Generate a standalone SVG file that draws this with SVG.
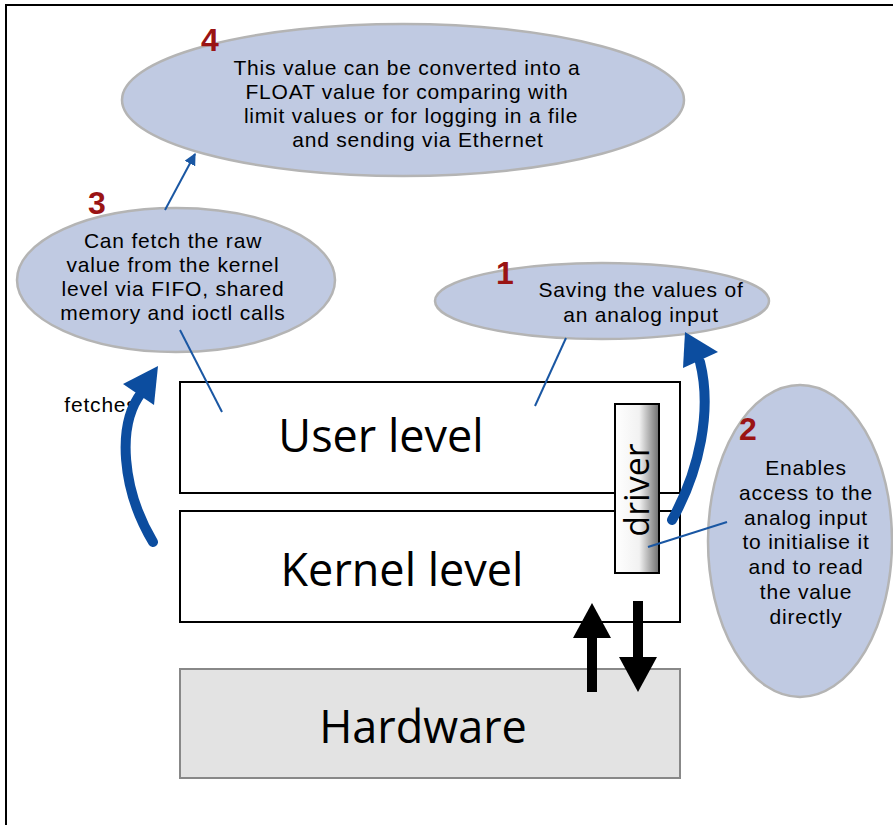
<svg xmlns="http://www.w3.org/2000/svg" width="893" height="825" viewBox="0 0 893 825">
<style>
.bub{fill:#c0cae2;stroke:#b4b4b4;stroke-width:2.5}
.t{font-family:"Liberation Sans",Arial,sans-serif;font-size:21px;letter-spacing:0.8px;fill:#000;text-anchor:middle}
.big{font-family:"Open Sans","Noto Sans",sans-serif;font-size:45px;fill:#000;text-anchor:middle}
.num{font-family:"Liberation Sans",Arial,sans-serif;font-weight:bold;font-size:32px;fill:#9a1414}
.box{fill:#fff;stroke:#000;stroke-width:2}
.lead{stroke:#1a57a3;stroke-width:2;fill:none}
.curve{stroke:#0c4d9f;stroke-width:10;fill:none;stroke-linecap:round}
</style>
<defs>
<linearGradient id="drvg" x1="0" y1="0" x2="1" y2="0">
<stop offset="0" stop-color="#ffffff"/>
<stop offset="0.55" stop-color="#f2f2f2"/>
<stop offset="1" stop-color="#6e6e6e"/>
</linearGradient>
<marker id="ah" viewBox="0 0 10 10" refX="9" refY="5" markerWidth="6" markerHeight="6" orient="auto">
<path d="M0,0 L10,5 L0,10 z" fill="#1a57a3"/>
</marker>
</defs>
<g id="frame">
<line x1="5" y1="5" x2="893" y2="5" stroke="#000" stroke-width="2"/>
<line x1="6" y1="5" x2="6" y2="825" stroke="#000" stroke-width="2"/>
</g>
<g id="hardware">
<rect x="180" y="669" width="500" height="109" fill="#e3e3e3" stroke="#888" stroke-width="2"/>
<text class="big" x="423" y="743">Hardware</text>
</g>
<g id="user-level">
<rect class="box" x="180" y="382" width="500" height="111"/>
<text class="big" x="381" y="452">User level</text>
</g>
<g id="kernel-level">
<rect class="box" x="180" y="511" width="500" height="111"/>
<text class="big" x="402" y="586">Kernel level</text>
</g>
<g id="driver">
<rect x="615" y="404" width="44" height="169" fill="url(#drvg)" stroke="#000" stroke-width="2"/>
<text class="big" style="font-size:34px" transform="translate(649,490) rotate(-90)" x="0" y="0">driver</text>
</g>
<g id="bubble4">
<ellipse class="bub" cx="403" cy="100" rx="281" ry="76"/>
<text class="num" x="201" y="51">4</text>
<text class="t" x="407" y="75">This value can be converted into a</text>
<text class="t" x="407" y="99">FLOAT value for comparing with</text>
<text class="t" x="411" y="123">limit values or for logging in a file</text>
<text class="t" x="418" y="147">and sending via Ethernet</text>
</g>
<g id="bubble3">
<ellipse class="bub" cx="176" cy="280" rx="159" ry="72"/>
<text class="num" x="88" y="214">3</text>
<text class="t" x="173" y="248">Can fetch the raw</text>
<text class="t" x="173" y="272">value from the kernel</text>
<text class="t" x="173" y="296">level via FIFO, shared</text>
<text class="t" x="173" y="320">memory and ioctl calls</text>
</g>
<g id="bubble1">
<ellipse class="bub" cx="602" cy="301" rx="167" ry="38"/>
<text class="num" x="496" y="284">1</text>
<text class="t" x="641" y="297">Saving the values of</text>
<text class="t" x="641" y="322">an analog input</text>
</g>
<g id="bubble2">
<ellipse class="bub" cx="800" cy="541" rx="92" ry="156"/>
<text class="num" x="739" y="440">2</text>
<text class="t" x="806" y="475">Enables</text>
<text class="t" x="806" y="500">access to the</text>
<text class="t" x="806" y="525">analog input</text>
<text class="t" x="806" y="549">to initialise it</text>
<text class="t" x="806" y="574">and to read</text>
<text class="t" x="806" y="599">the value</text>
<text class="t" x="806" y="624">directly</text>
</g>
<g id="fetches-label">
<text class="t" x="101" y="412">fetches</text>
</g>
<g id="connectors">
<line class="lead" x1="165" y1="210" x2="195" y2="154" marker-end="url(#ah)"/>
<line class="lead" x1="180" y1="330" x2="222" y2="412"/>
<line class="lead" x1="566" y1="338" x2="535" y2="406"/>
<line class="lead" x1="727" y1="522" x2="648" y2="547"/>
<path class="curve" d="M153,542 C122,490 116,425 142,392"/>
<polygon points="158,366 123,384 154,405" fill="#0c4d9f"/>
<path class="curve" d="M672,520 C700,470 712,410 700,362"/>
<polygon points="685,332 718,352 683,368" fill="#0c4d9f"/>
<rect x="587" y="635" width="10" height="57" fill="#000"/>
<polygon points="592,603 573,638 611,638" fill="#000"/>
<rect x="633" y="601" width="10" height="58" fill="#000"/>
<polygon points="638,692 619,657 657,657" fill="#000"/>
</g>
</svg>
